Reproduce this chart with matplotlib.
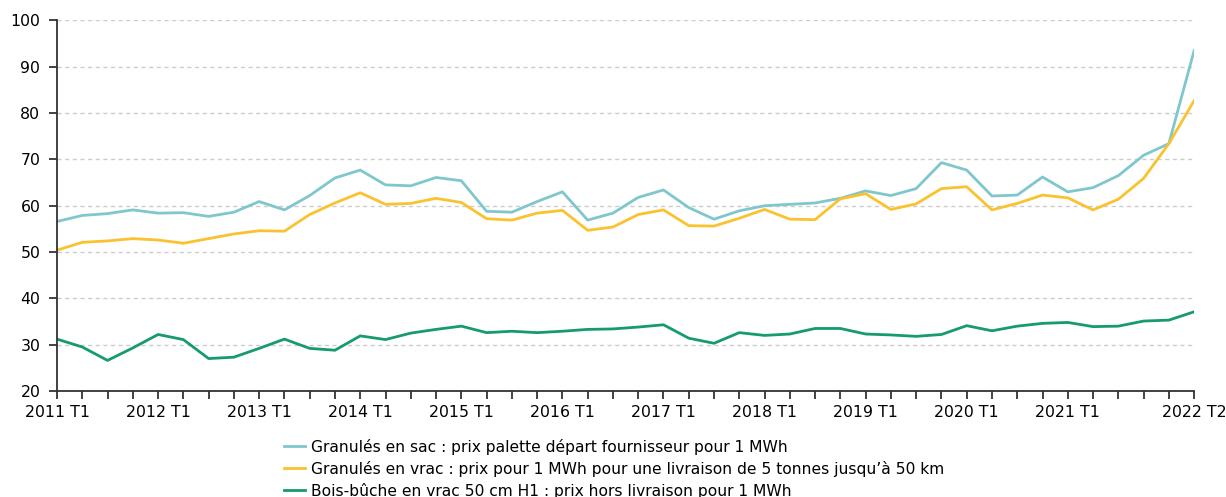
import matplotlib
matplotlib.use("Agg")
import matplotlib.pyplot as plt
import numpy as np

plt.rcParams['font.family'] = ['DejaVu Sans']

# quarters 2011 T1 .. 2022 T2
years = list(range(2011, 2023))
quarters = [f"{y} T{q}" for y in years for q in range(1, 5)][:46]

granules_sac = [56.6, 57.9, 58.3, 59.1, 58.4, 58.5, 57.7, 58.6, 60.9, 59.1,
                62.2, 66.0, 67.7, 64.5, 64.3, 66.1, 65.4, 58.8, 58.6, 60.9,
                63.0, 56.9, 58.4, 61.8, 63.4, 59.6, 57.1, 58.9, 60.0, 60.3,
                60.6, 61.6, 63.2, 62.2, 63.7, 69.3, 67.7, 62.1, 62.3, 66.2,
                63.0, 63.9, 66.5, 70.9, 73.4, 93.5]
granules_vrac = [50.4, 52.1, 52.4, 52.9, 52.6, 51.9, 52.9, 53.9, 54.6, 54.5,
                 58.1, 60.6, 62.8, 60.3, 60.5, 61.6, 60.7, 57.2, 56.9, 58.4,
                 59.0, 54.7, 55.4, 58.1, 59.1, 55.7, 55.6, 57.3, 59.2, 57.1,
                 57.0, 61.5, 62.6, 59.2, 60.4, 63.7, 64.1, 59.1, 60.5, 62.3,
                 61.7, 59.1, 61.4, 65.9, 73.4, 82.7]
bois_buche = [31.2, 29.5, 26.6, 29.3, 32.2, 31.1, 27.0, 27.3, 29.2, 31.2,
              29.2, 28.8, 31.9, 31.1, 32.5, 33.3, 34.0, 32.6, 32.9, 32.6,
              32.9, 33.3, 33.4, 33.8, 34.3, 31.4, 30.3, 32.6, 32.0, 32.3,
              33.5, 33.5, 32.3, 32.1, 31.8, 32.2, 34.1, 33.0, 34.0, 34.6,
              34.8, 33.9, 34.0, 35.1, 35.3, 37.1]

labels = [
    "Granulés en sac : prix palette départ fournisseur pour 1 MWh",
    "Granulés en vrac : prix pour 1 MWh pour une livraison de 5 tonnes jusqu’à 50 km",
    "Bois-bûche en vrac 50 cm H1 : prix hors livraison pour 1 MWh",
]
colors = ["#7fc7cc", "#f9c22e", "#159b6e"]

fig = plt.figure(figsize=(12.26, 4.97), dpi=100)
ax = fig.add_axes([0.0465, 0.2133, 0.9275, 0.7455])

x = np.arange(len(quarters))
for vals, lab, col in zip([granules_sac, granules_vrac, bois_buche], labels, colors):
    ax.plot(x, vals, color=col, lw=2.0, label=lab)

ax.set_xlim(0, len(quarters) - 1)
ax.set_ylim(20, 100)
ax.set_yticks(range(20, 101, 10))
ax.grid(axis='y', color='#cccccc', linestyle=(0, (3, 2.5)), lw=1)
ax.set_axisbelow(True)

# labels only on T1 of each year and on the last quarter
ax.set_xticks(x)
ticklabels = [q if q.endswith("T1") else "" for q in quarters]
ticklabels[-2] = ""
ticklabels[-1] = quarters[-1]
ax.set_xticklabels(ticklabels)

for s in ['top', 'right']:
    ax.spines[s].set_visible(False)
for s in ['left', 'bottom']:
    ax.spines[s].set_color('#333333')
    ax.spines[s].set_linewidth(1.3)
ax.tick_params(axis='both', length=6, width=1.3, color='#333333', labelsize=11.3, pad=4)
ax.tick_params(axis='y', pad=6)

fig.legend(loc='upper left', bbox_to_anchor=(0.2317, 0.117), frameon=False,
           fontsize=11.2, handlelength=1.35, handletextpad=0.35, labelspacing=0.38,
           borderpad=0, borderaxespad=0)

fig.savefig("out.png", dpi=100)
